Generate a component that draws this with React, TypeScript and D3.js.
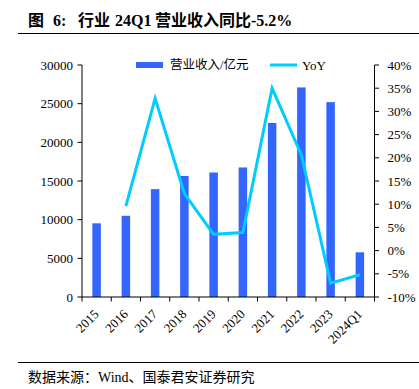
import React from "react";
import * as d3 from "d3";

const categories = ["2015", "2016", "2017", "2018", "2019", "2020", "2021", "2022", "2023", "2024Q1"];
const revenue = [9530, 10500, 13950, 15650, 16100, 16750, 22500, 27100, 25200, 5780];
const yoy: (number | null)[] = [null, 9.6, 32.8, 12.3, 3.5, 3.9, 35.0, 20.6, -7.0, -5.2];
const leftTicks = [0, 5000, 10000, 15000, 20000, 25000, 30000];
const rightTicks = [-10, -5, 0, 5, 10, 15, 20, 25, 30, 35, 40];

const W = 419, H = 389;
const left = 82, right = 374.5, top = 65, bottom = 297;
const serif = "'Liberation Serif', 'Times New Roman', 'Noto Sans CJK SC', serif";
const cjk = "'Liberation Serif', 'Noto Sans CJK SC', serif";
const barColor = "#3366FF";
const lineColor = "#00CCFF";

export default function App() {
  const x = d3.scaleBand<string>().domain(categories).range([left, right]).padding(0);
  const yL = d3.scaleLinear().domain([0, 30000]).range([bottom, top]);
  const yR = d3.scaleLinear().domain([-10, 40]).range([bottom, top]);
  const bw = 8.5;
  const pts = categories
    .map((c, i) => ({ c, v: yoy[i] }))
    .filter((d) => d.v !== null) as { c: string; v: number }[];
  const line = d3
    .line<{ c: string; v: number }>()
    .x((d) => (x(d.c) as number) + x.bandwidth() / 2)
    .y((d) => yR(d.v));
  const boundaries = categories.map((c) => x(c) as number).concat([right]);

  return (
    <svg width={W} height={H} style={{ position: "absolute", left: 0, top: 0, background: "#fff" }}>
      <text y={26} fontFamily={cjk} fontWeight="bold" fontSize={16} fill="#000">
        <tspan x={28}>图</tspan>
        <tspan x={53}>6:</tspan>
        <tspan x={78}>行业</tspan>
        <tspan x={115}>24Q1</tspan>
        <tspan x={155}>营业收入同比-5.2%</tspan>
      </text>
      <line x1={18} x2={419} y1={33.5} y2={33.5} stroke="#000" strokeWidth={1} />

      {/* bars */}
      {categories.map((c, i) => (
        <rect
          key={c}
          x={(x(c) as number) + x.bandwidth() / 2 - bw / 2}
          y={yL(revenue[i])}
          width={bw}
          height={bottom - yL(revenue[i])}
          fill={barColor}
        />
      ))}

      {/* line */}
      <path d={line(pts) || ""} fill="none" stroke={lineColor} strokeWidth={3} strokeLinejoin="miter" />

      {/* left axis */}
      <line x1={left} x2={left} y1={top} y2={bottom} stroke="#000" />
      {leftTicks.map((t) => (
        <g key={t}>
          <line x1={left - 4.5} x2={left} y1={yL(t)} y2={yL(t)} stroke="#000" />
          <text x={left - 9} y={yL(t)} dy="0.35em" textAnchor="end" fontFamily={serif} fontSize={13}>
            {t}
          </text>
        </g>
      ))}

      {/* right axis */}
      <line x1={right} x2={right} y1={top} y2={bottom} stroke="#000" />
      {rightTicks.map((t) => (
        <g key={t}>
          <line x1={right} x2={right + 4.5} y1={yR(t)} y2={yR(t)} stroke="#000" />
          <text x={right + 13} y={yR(t)} dy="0.35em" textAnchor="start" fontFamily={serif} fontSize={13}>
            {t + "%"}
          </text>
        </g>
      ))}

      {/* bottom axis */}
      <line x1={left} x2={right} y1={bottom} y2={bottom} stroke="#000" />
      {boundaries.map((b, i) => (
        <line key={i} x1={b} x2={b} y1={bottom} y2={bottom + 4.5} stroke="#000" />
      ))}
      {categories.map((c) => {
        const cx = (x(c) as number) + x.bandwidth() / 2 + 3;
        const cy = bottom + 18;
        return (
          <text
            key={c}
            x={cx}
            y={cy}
            textAnchor="end"
            fontFamily={serif}
            fontSize={13}
            transform={`rotate(-45 ${cx} ${cy})`}
          >
            {c}
          </text>
        );
      })}

      {/* legend */}
      <rect x={136} y={62} width={27} height={6} fill={barColor} />
      <text x={170} y={65} dy="0.35em" fontFamily={cjk} fontSize={12.5}>
        营业收入/亿元
      </text>
      <line x1={270} x2={297} y1={65} y2={65} stroke={lineColor} strokeWidth={3} />
      <text x={302} y={65} dy="0.35em" fontFamily={serif} fontSize={13}>
        YoY
      </text>

      {/* footer */}
      <line x1={18} x2={419} y1={362.5} y2={362.5} stroke="#000" strokeWidth={1} />
      <text x={28} y={382} fontFamily={cjk} fontSize={14}>
        数据来源：Wind、国泰君安证券研究
      </text>
    </svg>
  );
}
